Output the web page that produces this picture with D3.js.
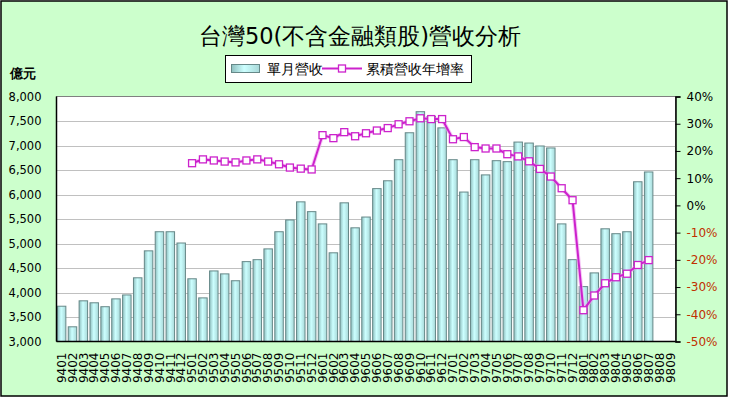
<!DOCTYPE html>
<html><head><meta charset="utf-8">
<script src="https://cdn.jsdelivr.net/npm/d3@7"></script>
<style>
body{margin:0;padding:0;background:#fff;}
svg{display:block;}
text{font-family:"DejaVu Sans",Verdana,sans-serif;}
</style></head>
<body>
<svg id="c" width="729" height="398"></svg>
<script>
const months = ["9401","9402","9403","9404","9405","9406","9407","9408","9409","9410","9411","9412",
"9501","9502","9503","9504","9505","9506","9507","9508","9509","9510","9511","9512",
"9601","9602","9603","9604","9605","9606","9607","9608","9609","9610","9611","9612",
"9701","9702","9703","9704","9705","9706","9707","9708","9709","9710","9711","9712",
"9801","9802","9803","9804","9805","9806","9807","9808","9809"];
const revenue = [3720,3300,3830,3790,3710,3870,3950,4300,4850,5240,5240,5010,
4280,3890,4440,4380,4240,4630,4670,4890,5240,5480,5850,5650,
5400,4810,5830,5320,5540,6120,6280,6710,7260,7690,7590,7360,
6710,6050,6710,6400,6690,6670,7070,7050,6990,6950,5400,4670,
4120,4400,5300,5200,5240,6260,6460,null,null];
const growth = [null,null,null,null,null,null,null,null,null,null,null,null,
15.5,16.9,16.5,16.1,15.8,16.5,16.9,16.1,15.1,13.9,13.5,13.2,
25.8,24.7,26.9,25.4,26.5,27.5,28.4,29.8,30.9,32.0,31.7,31.7,
24.3,25.1,21.4,20.9,20.9,18.8,18.0,16.2,13.4,10.6,6.3,1.9,
-38.5,-33.1,-28.6,-26.4,-25.1,-21.9,-20.1,null,null];
const leftTicks = [3000,3500,4000,4500,5000,5500,6000,6500,7000,7500,8000];
const rightTicks = [-50,-40,-30,-20,-10,0,10,20,30,40];
const title = "台灣50(不含金融類股)營收分析";
const seriesNames = ["單月營收","累積營收年增率"];
const unitLabel = "億元";

const W=729,H=398;
const plot={l:56.5,r:675.5,t:96.5,b:341.5};
const svg=d3.select("#c");
const defs=svg.append("defs");
const g=defs.append("linearGradient").attr("id","barg").attr("x1","0").attr("x2","1").attr("y1","0").attr("y2","0");
g.append("stop").attr("offset","0").attr("stop-color","#8fbfbf");
g.append("stop").attr("offset","0.45").attr("stop-color","#ccffff");
g.append("stop").attr("offset","1").attr("stop-color","#a8d8d8");

svg.append("rect").attr("x",1).attr("y",1).attr("width",W-3).attr("height",H-3)
  .attr("fill","#ccffcc").attr("stroke","#000").attr("stroke-width",1.5);

svg.append("rect").attr("x",plot.l).attr("y",plot.t).attr("width",plot.r-plot.l).attr("height",plot.b-plot.t)
  .attr("fill","#fff").attr("stroke","#808080").attr("stroke-width",1);

const x=d3.scaleBand().domain(months).range([plot.l,plot.r]).paddingInner(0.22).paddingOuter(0.08);
const y=d3.scaleLinear().domain([3000,8000]).range([plot.b,plot.t]);
const y2=d3.scaleLinear().domain([-50,40]).range([plot.b,plot.t]);

// gridlines
svg.append("g").selectAll("line").data(leftTicks.slice(1,-1)).join("line")
  .attr("x1",plot.l).attr("x2",plot.r).attr("y1",d=>Math.round(y(d))+0.5).attr("y2",d=>Math.round(y(d))+0.5)
  .attr("stroke","#c0c0c0").attr("stroke-width",1);

// bars
svg.append("g").selectAll("rect").data(months.map((m,i)=>({m,v:revenue[i]})).filter(d=>d.v!=null)).join("rect")
  .attr("x",d=>x(d.m)).attr("width",x.bandwidth())
  .attr("y",d=>y(d.v)).attr("height",d=>plot.b-y(d.v))
  .attr("fill","url(#barg)").attr("stroke","#668888").attr("stroke-width",1);

// axes lines
svg.append("line").attr("x1",plot.l).attr("x2",plot.l).attr("y1",plot.t).attr("y2",plot.b).attr("stroke","#000").attr("stroke-width",1.5);
svg.append("line").attr("x1",plot.l).attr("x2",plot.r).attr("y1",plot.b).attr("y2",plot.b).attr("stroke","#000").attr("stroke-width",1.5);

// left axis labels
const ya=d3.axisLeft(y).tickValues(leftTicks).tickSize(0).tickPadding(15).tickFormat(d3.format(","));
const yg=svg.append("g").attr("transform",`translate(${plot.l},0)`).call(ya);
yg.select(".domain").remove();
yg.selectAll("text").attr("font-size","11.5px").attr("fill","#000").attr("font-family","DejaVu Sans");

// right axis
const ra=d3.axisRight(y2).tickValues(rightTicks).tickSize(5).tickPadding(6).tickFormat(d=>d+"%");
const rg=svg.append("g").attr("transform",`translate(${plot.r},0)`).call(ra);
rg.select(".domain").attr("stroke","#000").attr("stroke-width",1.5);
rg.selectAll(".tick line").attr("stroke","#000");
rg.selectAll("text").attr("font-size","12px").attr("font-family","DejaVu Sans").attr("fill",d=>d<0?"#c03000":"#000");

// x axis labels
const xa=d3.axisBottom(x).tickSize(0).tickPadding(0);
const xg=svg.append("g").attr("transform",`translate(0,${plot.b})`).call(xa);
xg.select(".domain").remove();
xg.selectAll("text").attr("font-size","12px").attr("font-family","DejaVu Sans").attr("fill","#000")
  .attr("transform","rotate(-90)").attr("text-anchor","end").attr("dy","0.35em").attr("x",-11).attr("y",0);

// line
const pts=months.map((m,i)=>({m,v:growth[i]})).filter(d=>d.v!=null);
const line=d3.line().x(d=>x(d.m)+x.bandwidth()/2).y(d=>y2(d.v));
svg.append("path").datum(pts).attr("d",line).attr("fill","none").attr("stroke","#f0a0f0").attr("stroke-width",4).attr("opacity",0.6);
svg.append("path").datum(pts).attr("d",line).attr("fill","none").attr("stroke","#cc22cc").attr("stroke-width",2);
svg.append("g").selectAll("rect").data(pts).join("rect")
  .attr("x",d=>x(d.m)+x.bandwidth()/2-3.5).attr("y",d=>y2(d.v)-3.5).attr("width",7).attr("height",7)
  .attr("fill","#fff").attr("stroke","#cc22cc").attr("stroke-width",1.3);

// title
svg.append("text").attr("x",360).attr("y",44).attr("text-anchor","middle")
  .attr("font-family","'Noto Sans CJK TC','Noto Sans CJK SC',sans-serif").attr("font-size","22.5px").attr("fill","#000").text(title);

// unit label
svg.append("text").attr("x",10).attr("y",78).attr("font-family","'Noto Sans CJK TC',sans-serif").attr("font-weight","bold")
  .attr("font-size","13px").attr("fill","#000").text(unitLabel);

// legend
const lg=svg.append("g");
lg.append("rect").attr("x",225.5).attr("y",55.5).attr("width",246).attr("height",27).attr("fill","#fff").attr("stroke","#000").attr("stroke-width",1);
lg.append("rect").attr("x",231.5).attr("y",64.5).attr("width",28).attr("height",8).attr("fill","url(#barg)").attr("stroke","#668888");
lg.append("text").attr("x",267).attr("y",74).attr("font-family","'Noto Sans CJK TC',sans-serif").attr("font-size","13.5px").text(seriesNames[0]);
lg.append("line").attr("x1",322).attr("x2",362).attr("y1",68.5).attr("y2",68.5).attr("stroke","#cc22cc").attr("stroke-width",2);
lg.append("rect").attr("x",338.5).attr("y",65).attr("width",7).attr("height",7).attr("fill","#fff").attr("stroke","#cc22cc").attr("stroke-width",1.3);
lg.append("text").attr("x",366).attr("y",74).attr("font-family","'Noto Sans CJK TC',sans-serif").attr("font-size","13.5px").text(seriesNames[1]);
</script>
</body></html>
